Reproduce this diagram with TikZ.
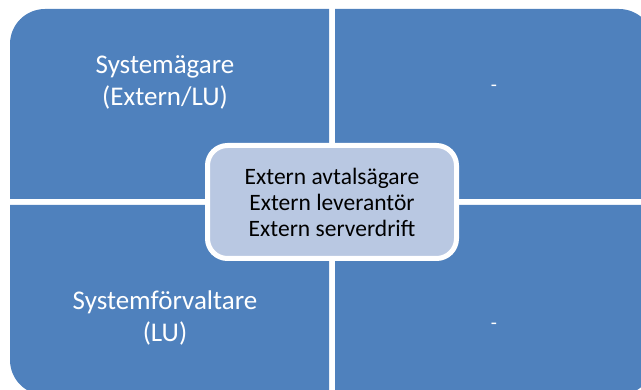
\documentclass[tikz,border=0pt]{standalone}
\usepackage{fontspec}
\setmainfont{Carlito}
\definecolor{quadblue}{RGB}{79,129,189}
\definecolor{midblue}{RGB}{185,200,226}
\tikzset{
  quad/.style={fill=quadblue},
  quadtext/.style={text=white, align=center, font=\fontsize{27}{32}\selectfont},
  dashtext/.style={text=white, font=\fontsize{20}{24}\selectfont},
  midbox/.style={draw=white, line width=5pt, fill=midblue, rounded corners=20pt,
    minimum width=249pt, minimum height=113pt, align=center,
    font=\fontsize{23.5}{26}\selectfont}
}
\begin{document}
\begin{tikzpicture}[x=1pt, y=-1pt]
\useasboundingbox (0,0) rectangle (641,390);
\clip (0,0) rectangle (641,390);
% four quarters, outer corner rounded
\fill[quad] (10,199) [rounded corners=35pt] -- (10,9) [sharp corners] -- (329,9) -- (329,199) -- cycle;
\fill[quad] (335,199) -- (335,9) [rounded corners=35pt] -- (654,9) [sharp corners] -- (654,199) -- cycle;
\fill[quad] (329,205) -- (10,205) [rounded corners=35pt] -- (10,395) [sharp corners] -- (329,395) -- cycle;
\fill[quad] (335,205) -- (654,205) [rounded corners=35pt] -- (654,395) [sharp corners] -- (335,395) -- cycle;
% texts
\node[quadtext] (owner) at (165,82) {Systemägare\\(Extern/LU)};
\node[dashtext] (ownerx) at (494,88) {-};
\node[quadtext] (admin) at (165,318) {Systemförvaltare\\(LU)};
\node[dashtext] (adminx) at (494,326) {-};
\node[midbox] (ext) at (332,202) {Extern avtalsägare\\Extern leverantör\\Extern serverdrift};
\end{tikzpicture}
\end{document}
